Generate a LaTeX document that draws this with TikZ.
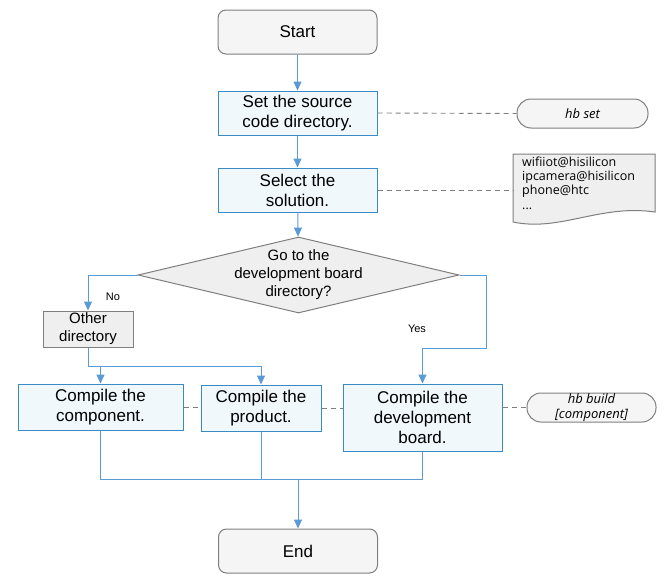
\documentclass[tikz,border=0pt]{standalone}
\usepackage{fontspec}
\setmainfont{Liberation Sans}
\newfontfamily\notefont{Open Sans}
\usetikzlibrary{shapes.geometric,arrows.meta}
\definecolor{boxblue}{HTML}{3A8AC6}
\definecolor{boxfill}{HTML}{F0F8FC}
\definecolor{arrowblue}{HTML}{5B9BD5}
\definecolor{termgray}{HTML}{7F7F7F}
\definecolor{termfill}{HTML}{F5F5F5}
\definecolor{decfill}{HTML}{EFEFEF}

\begin{document}
\begin{tikzpicture}[x=1pt,y=1pt,
	font=\fontsize{17}{20}\selectfont,
	>={Triangle[width=8pt,length=9pt]},
	terminal/.style={draw=termgray, fill=termfill, line width=1pt, rounded corners=8pt,
		minimum width=159pt, minimum height=44pt, inner sep=0pt},
	process/.style={draw=boxblue, fill=boxfill, line width=1pt, align=center, inner sep=0pt},
	grayproc/.style={draw=termgray, fill=decfill, line width=1pt, align=center, inner sep=0pt,
		font=\fontsize{15}{18}\selectfont},
	note/.style={draw=termgray, fill=termfill, line width=1pt, rounded corners=14pt, align=center,
		minimum height=29pt, inner sep=0pt, font=\notefont\itshape\fontsize{13}{15}\selectfont},
	flow/.style={->, draw=arrowblue, line width=1pt},
	merge/.style={draw=arrowblue, line width=1pt},
	link/.style={draw=termgray, line width=0.9pt, dash pattern=on 5pt off 4pt},
	branchtext/.style={font=\fontsize{11}{13}\selectfont}
]
\useasboundingbox (0,0) rectangle (665,-584);

%----------------------------
% Main column
%----------------------------
\node[terminal] (start) at (297.5,-32) {Start};
\node[process, minimum width=159pt, minimum height=44pt] (set) at (297.5,-113)
	{Set the source\\code directory.};
\node[process, minimum width=159pt, minimum height=44pt] (sel) at (297.5,-190)
	{Select the\\solution.};

% decision
\node[draw=termgray, fill=decfill, line width=1pt, diamond, minimum width=321pt,
	minimum height=76pt, inner sep=0pt] (dec) at (298.5,-275) {};
\node[align=center, font=\fontsize{15}{18}\selectfont] (dectext) at (dec) 
	{Go to the\\development board\\directory?};

% branch on No
\node[grayproc, minimum width=90pt, minimum height=36pt] (other) at (88,-329)
	{Other\\directory};
\node[branchtext] (no) at (113,-297) {No};
\node[branchtext] (yes) at (417,-329) {Yes};

%----------------------------
% Compile steps
%----------------------------
\node[process, minimum width=165pt, minimum height=46pt] (comp) at (100.5,-407)
	{Compile the\\component.};
\node[process, minimum width=120pt, minimum height=46pt] (prod) at (261,-408)
	{Compile the\\product.};
\node[process, minimum width=159pt, minimum height=67pt] (dev) at (422.5,-417.5)
	{Compile the\\development\\board.};

\node[terminal] (end) at (298,-551) {End};

%----------------------------
% Side notes
%----------------------------
\node[note, minimum width=131pt] (hbset) at (582.5,-113.5) {hb set};
\node[note, minimum width=129pt] (hbbuild) at (591.5,-407.5) {hb build\\{[component]}};

% document shape with the solutions
\draw[draw=termgray, fill=decfill, line width=1pt]
	(513,-154) -- (655,-154) -- (655,-212)
	.. controls (600,-204) and (560,-232) .. (513,-222) -- cycle;
\coordinate (docw) at (513,-190);
\node[align=left, anchor=west, inner sep=0pt,
	font=\notefont\fontsize{12.5}{14.4}\selectfont] (sol) at (522,-183)
	{wifiiot@hisilicon\\ipcamera@hisilicon\\phone@htc\\...};

%----------------------------
% Connectors
%----------------------------
\draw[flow] (start) -- (set);
\draw[flow] (set) -- (sel);
\draw[flow] (sel) -- (dec);

\draw[flow] (dec.west) -| (other.north);
\coordinate (j1) at (88,-366);
\draw[merge] (other.south) -- (j1);
\draw[flow] (j1) -| (comp.north);
\draw[flow] (j1) -| (prod.north);

\coordinate (j2) at (486,-348);
\draw[flow] (dec.east) -| (j2) -| (dev.north);

\coordinate (m) at (298,-479);
\draw[merge] (comp.south) |- (m);
\draw[merge] (prod.south) |- (m);
\draw[merge] (dev.south) |- (m);
\draw[flow] (m) -- (end);

% dashed links
\draw[link] (set.east) -- (hbset.west);
\draw[link] (sel.east) -- (docw);
\draw[link] (comp.east) -- (comp.east -| prod.west);
\draw[link] (prod.east) -- (prod.east -| dev.west);
\draw[link] (hbbuild.west -| dev.east) -- (hbbuild.west);

\end{tikzpicture}
\end{document}
